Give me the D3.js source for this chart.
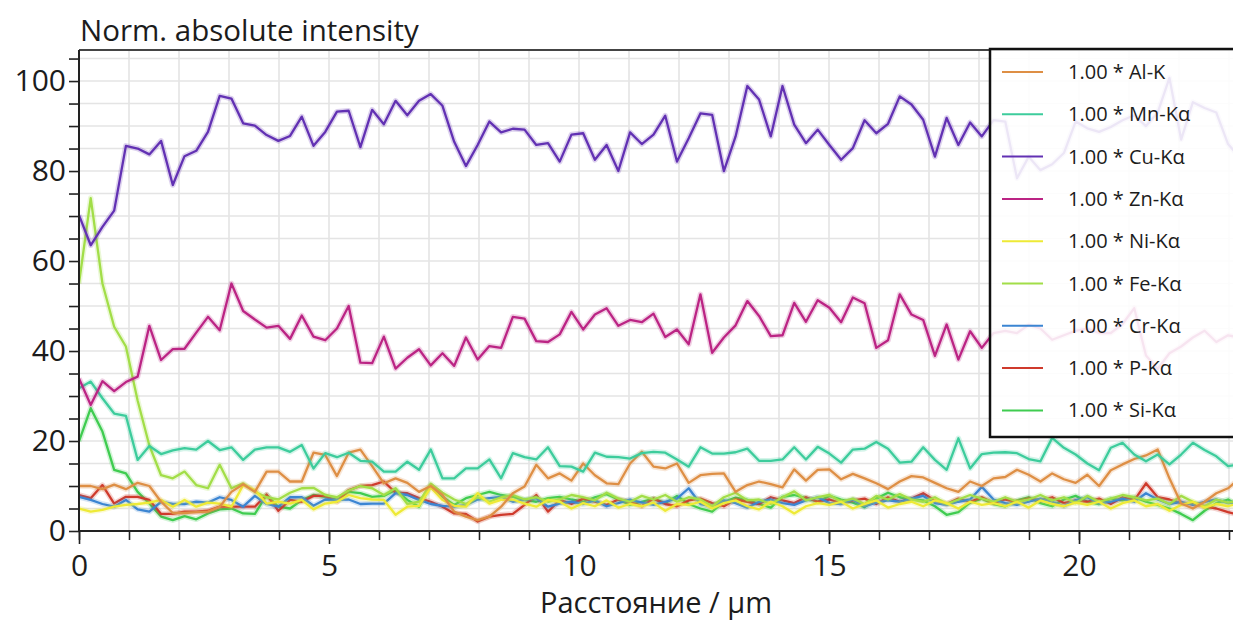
<!DOCTYPE html>
<html>
<head>
<meta charset="utf-8">
<script src="https://cdn.jsdelivr.net/npm/d3@7"></script>
<style>
  body { margin: 0; background: #ffffff; }
  svg { display: block; }
</style>
</head>
<body>
<svg id="chart" width="1233" height="628"></svg>
<script>
// Line-scan profile: sample spacing along the scan (µm)
const sampleStep = 0.2345;

// Normalised intensities per element, one value per scan point
const alK = [10, 10, 9.3, 10.3, 9.3, 10.7, 10, 6.5, 4, 4,
  4.2, 4.3, 5.4, 8.7, 10.4, 8.7, 13.2, 13.2, 11, 11,
  17.4, 16.9, 12.2, 17.4, 18.1, 14.4, 10.6, 11.7, 10.7, 8.7,
  10, 8, 4.3, 3.2, 2.4, 3.2, 5.4, 8.4, 9.9, 14.7,
  11.7, 12.8, 11.2, 15, 12.4, 10.6, 10.4, 15, 17.6, 14.3,
  13.9, 15, 10.7, 12.4, 12.7, 12.8, 8.7, 10.2, 11, 10.4,
  9.7, 13.7, 11.2, 13.6, 13.7, 11.5, 12.7, 11.7, 10.6, 9.3,
  11, 12.2, 11.9, 10.7, 9.5, 8.7, 11, 10, 11.7, 12,
  13.6, 12.5, 11, 12.8, 11.5, 10.7, 12.5, 10, 13.5, 14.8,
  16, 16.8, 18.1, 11.7, 6.1, 5, 6.5, 8.4, 9.5, 11.7];

const mnKa = [31.7, 33.2, 29.5, 26.1, 25.6, 15.8, 18.9, 17.1, 17.9, 18.4,
  18.1, 20, 18, 18.6, 15.8, 18.1, 18.6, 18.6, 17.6, 19.1,
  13.9, 17.3, 16.4, 17.4, 15.6, 15.4, 13.2, 13.2, 15.4, 13.6,
  18.1, 11.7, 11.7, 13.9, 13.9, 15.9, 11.7, 17.3, 16.4, 15.9,
  18.6, 14.4, 14.3, 13.2, 17.4, 16.5, 16.4, 16.1, 17.3, 17.6,
  17.4, 15.9, 14.3, 18.6, 17.2, 17.2, 17.5, 18.3, 15.6, 15.6,
  15.9, 18.6, 15.9, 18.7, 17.2, 15.2, 18.1, 18.3, 19.8, 18.3,
  15.2, 15.4, 18.6, 15.8, 13.6, 20.6, 13.9, 17.1, 17.4, 17.5,
  17.3, 16, 15.5, 20.7, 18.5, 17, 15, 13.5, 18.5, 19.6,
  17, 15.5, 17, 14.8, 17, 19.6, 18, 16.6, 14.4, 14.8];

const cuKa = [70.2, 63.5, 67.6, 71.2, 85.6, 85, 83.7, 86.7, 76.9, 83.3,
  84.5, 88.7, 96.7, 96.1, 90.6, 90.1, 88, 86.7, 87.8, 92.1,
  85.6, 88.7, 93.2, 93.4, 85.3, 93.6, 90.4, 95.6, 92.4, 95.6,
  97.1, 94.5, 86.5, 81.1, 85.8, 91, 88.6, 89.4, 89.2, 85.8,
  86.2, 82.1, 88.1, 88.4, 82.5, 85.8, 80, 88.6, 86, 88.1,
  92.3, 82.1, 87.3, 92.8, 92.5, 80, 87.7, 98.9, 95.9, 87.7,
  98.9, 90.3, 86.2, 89.2, 85.8, 82.5, 85.1, 91.3, 88.4, 90.5,
  96.6, 94.8, 91.4, 83.2, 91.8, 85.8, 90.8, 87.7, 91.3, 91,
  78.4, 83.2, 80.2, 81.5, 84, 91, 89.5, 88.7, 89.8, 91.3,
  92.4, 90, 93, 100.7, 87, 95.3, 94, 93, 86, 83];

const znKa = [33.9, 28, 33.3, 31.1, 33.1, 34.3, 45.6, 38, 40.4, 40.5,
  44.1, 47.6, 44.6, 55, 48.9, 47, 45.2, 45.6, 42.7, 47.9,
  43.2, 42.4, 45, 50, 37.4, 37.3, 43.2, 36.1, 38.5, 40.4,
  36.8, 39.5, 36.7, 43, 38.1, 41.1, 40.7, 47.6, 47.2, 42.2,
  42, 43.7, 48.7, 44.8, 48.1, 49.5, 45.6, 46.9, 46.4, 48.3,
  43.1, 44.8, 41.5, 52.6, 39.6, 43, 45.7, 51.1, 47.8, 43.3,
  43.5, 50.7, 46.5, 51.3, 49.6, 46.4, 51.9, 50.6, 40.7, 42.4,
  52.6, 48.1, 46.9, 38.9, 45.9, 38.1, 44.4, 40.7, 44, 44.5,
  44, 45.8, 45, 42.5, 43.5, 44.5, 45, 44, 44, 46,
  49.5, 39, 36, 39.5, 41, 43, 44.5, 42, 43.5, 43];

const niKa = [5, 4.3, 4.7, 5.4, 5.8, 6, 6.3, 6.9, 5.4, 6.9,
  5.4, 6.3, 6.1, 5.4, 10.2, 9.1, 6.1, 6.5, 6.1, 6.9,
  4.8, 6.1, 6.5, 8, 7.3, 7, 6.9, 3.6, 5.4, 5.6,
  9.7, 6.9, 5.6, 5.4, 8.4, 6.1, 6.9, 7, 6.1, 5.4,
  6.9, 6.5, 5, 6.2, 5.5, 6.8, 5.2, 6, 5.5, 6.3,
  4.5, 6, 5.8, 6.5, 5, 6.2, 6.8, 5.5, 4.8, 6.5,
  5.5, 3.9, 5.5, 6.2, 5.8, 6.5, 5, 6, 6.8, 5.2,
  6, 6.5, 5.5, 6.8, 6.2, 5, 6.5, 5.8, 6.2, 5.5,
  6.5, 5.2, 6.8, 6, 5.5, 6.3, 5.8, 6.5, 5, 6.2,
  6.8, 5.5, 6, 4.5, 5.8, 6.5, 5.2, 6, 5.5, 6.2];

const feKa = [55, 74, 55, 45.4, 41, 29, 19, 12.4, 11.7, 13.2,
  10.2, 9.5, 14.7, 9.5, 10.6, 8.7, 7.5, 7, 8.5, 9.5,
  9.6, 8, 7.5, 9, 10, 9.5, 8, 9.5, 6, 6.5,
  10.5, 8.5, 7, 6, 7.5, 6.5, 7.5, 8, 7, 7.5,
  6.5, 7, 8, 7.5, 6.8, 8.5, 7.2, 6.5, 7.8, 7,
  8, 6.5, 7.5, 7, 5.5, 7.5, 8.5, 6.8, 7, 6,
  7.5, 8.8, 6.8, 7.5, 8, 6.5, 7.2, 6, 7.8, 7,
  8.2, 7, 6.5, 7.5, 6, 7, 8, 7.2, 6.5, 7.5,
  6.5, 7, 8, 6.8, 7.5, 6.2, 7.8, 6.5, 7.2, 8,
  7.5, 6.8, 7.2, 6, 7.8, 6.5, 5.5, 7, 6.3, 6.8];

const crKa = [7.6, 6.9, 6, 5.4, 6.9, 4.8, 4.3, 6.5, 6, 6,
  6.5, 6.3, 7.5, 6.9, 5.4, 7.8, 6, 5.4, 7.5, 7.5,
  5.6, 7, 6.9, 7, 6, 6.1, 6.1, 8.4, 8, 6.9,
  6, 5.6, 5.4, 5.8, 7, 7.3, 7.6, 6.5, 6.9, 7.3,
  5.4, 6.1, 6.5, 6, 6.8, 5.5, 6.2, 7, 6.3, 5.8,
  6.5, 7.2, 9.5, 6, 5.5, 6.8, 6.2, 5.2, 6.5, 7,
  6.2, 5.8, 6.8, 7.5, 6.2, 6, 7, 5.5, 6.3, 6.8,
  6.5, 7.2, 7.8, 6.2, 5.8, 6.5, 7, 9.8, 7, 6.2,
  5.8, 6.5, 7.2, 6.5, 5.5, 6.8, 7.5, 6.2, 6.5, 7.2,
  6.5, 8.4, 7, 6, 6.5, 5.8, 6.5, 7, 6.2, 6.5];

const pKa = [8, 7.3, 10.2, 6.1, 7.6, 7.6, 6.9, 3.8, 3.8, 4.3,
  4.3, 4.5, 5.4, 5.4, 5.4, 5.4, 8.1, 4.5, 6.9, 6.5,
  7.8, 7.8, 6.5, 9.1, 10, 10.2, 11, 8.5, 8.4, 7.3,
  6.5, 5.4, 3.9, 3.8, 2.1, 3.2, 3.6, 3.8, 5.8, 8,
  4.3, 6.9, 6, 7.2, 6.5, 5.8, 7, 6.5, 5.5, 7.2,
  6, 5.5, 6.8, 7.2, 6.2, 5.5, 7, 6.5, 6, 7.5,
  6.8, 6.2, 7.5, 6.5, 7, 6.2, 6.8, 7.2, 6, 7.5,
  6.5, 7.2, 8.4, 6.8, 6, 7.2, 6.5, 7.5, 6.2, 7,
  6.5, 7.2, 6.8, 7.5, 6.2, 6.8, 6.5, 7.2, 6, 7.5,
  6.8, 10.6, 7.5, 7, 6.2, 6, 5.5, 5, 4.2, 3.5];

const siKa = [19.9, 27.3, 22.1, 13.6, 12.8, 8.7, 6.1, 3.2, 2.4, 3.3,
  2.6, 3.9, 4.8, 5, 3.9, 3.8, 8, 5.4, 5, 6.9,
  8, 7.6, 6.9, 8.7, 8.4, 7.6, 7.8, 9.1, 6.9, 5.4,
  10.2, 7.6, 5.8, 7.3, 8, 8.7, 8, 7.6, 6.9, 6.5,
  7.3, 7.6, 7, 6.5, 7.5, 8.2, 7, 5.8, 6.5, 7.2,
  6.2, 7.8, 6, 5, 4.3, 6.5, 7.4, 6.9, 6, 5.2,
  7.6, 8, 7.3, 6.5, 7.8, 7, 6.3, 5.3, 7.2, 8.5,
  7.5, 7, 6.8, 5.5, 3.6, 4.2, 6.3, 7.2, 6, 5.5,
  6.8, 7.5, 6.2, 5.5, 7, 7.8, 6.5, 6, 7.2, 6.8,
  7.5, 6.5, 5.8, 5, 3.8, 2.4, 4.5, 6.2, 7, 5.5];

// Legend labels and line colours, in legend order
const seriesLabels = ["1.00 * Al-K", "1.00 * Mn-Kα", "1.00 * Cu-Kα", "1.00 * Zn-Kα",
  "1.00 * Ni-Kα", "1.00 * Fe-Kα", "1.00 * Cr-Kα", "1.00 * P-Kα", "1.00 * Si-Kα"];
const seriesColors = ["#de8f45", "#3dcc9c", "#6231b3", "#bb2484",
  "#eeea36", "#a2de48", "#3b85d2", "#cf3a2c", "#3fcc50"];
const seriesValues = [alK, mnKa, cuKa, znKa, niKa, feKa, crKa, pKa, siKa];

const xMajorTicks = [0, 5, 10, 15, 20];
const yMajorTicks = [0, 20, 40, 60, 80, 100];

const titleText = "Norm. absolute intensity";
const xTitleText = "Расстояние / µm";

// ---- layout ----
const plot = { left: 79, right: 1233, top: 50, bottom: 531 };
const FONT = "'Open Sans', 'DejaVu Sans', sans-serif";
const TEXT = "#1c1c1c";

const svg = d3.select("#chart");

const x = d3.scaleLinear().domain([0, 23.08]).range([plot.left, plot.right]);
const y = d3.scaleLinear().domain([0, 106.9]).range([plot.bottom, plot.top]);

const distance = d3.range(cuKa.length).map(i => i * sampleStep);

svg.append("defs").append("clipPath").attr("id", "plotClip")
  .append("rect")
  .attr("x", plot.left).attr("y", plot.top)
  .attr("width", plot.right - plot.left).attr("height", plot.bottom - plot.top);

// grid
const grid = svg.append("g").attr("stroke", "#e4e4e4").attr("stroke-width", 1.6);
grid.selectAll("line.v").data(d3.range(1, 24)).join("line")
  .attr("x1", d => x(d)).attr("x2", d => x(d))
  .attr("y1", plot.top).attr("y2", plot.bottom);
grid.selectAll("line.h").data(d3.range(5, 106, 5)).join("line")
  .attr("x1", plot.left).attr("x2", plot.right)
  .attr("y1", d => y(d)).attr("y2", d => y(d));

// series lines, each with a soft halo
const line = d3.line().x((d, i) => x(distance[i])).y(d => y(d));
const linesG = svg.append("g").attr("clip-path", "url(#plotClip)");
const drawOrder = [8, 7, 6, 5, 4, 0, 1, 3, 2];
drawOrder.forEach(k => {
  linesG.append("path").datum(seriesValues[k])
    .attr("d", line).attr("fill", "none")
    .attr("stroke", seriesColors[k]).attr("stroke-opacity", 0.22)
    .attr("stroke-width", 5.5).attr("stroke-linejoin", "round");
  linesG.append("path").datum(seriesValues[k])
    .attr("d", line).attr("fill", "none")
    .attr("stroke", seriesColors[k]).attr("stroke-width", 2.3)
    .attr("stroke-linejoin", "round");
});

// top frame line
svg.append("line").attr("x1", plot.left).attr("x2", plot.right)
  .attr("y1", plot.top).attr("y2", plot.top)
  .attr("stroke", "#444").attr("stroke-width", 2);

// y axis
const yAxis = d3.axisLeft(y)
  .tickValues(d3.range(0, 106, 5))
  .tickSize(10).tickPadding(3)
  .tickFormat(d => yMajorTicks.includes(d) ? d : "");
const yG = svg.append("g").attr("transform", `translate(${plot.left},0)`).call(yAxis);
yG.select(".domain").remove();
yG.selectAll(".tick line").attr("stroke", "#222").attr("stroke-width", 1.6);
yG.selectAll(".tick text").attr("font-family", FONT).attr("font-size", 30).attr("fill", TEXT);
svg.append("line").attr("x1", plot.left).attr("x2", plot.left)
  .attr("y1", plot.top).attr("y2", plot.bottom)
  .attr("stroke", "#222").attr("stroke-width", 2);

// x axis: minor ticks each µm, labelled major ticks every 5 µm
const xMinor = d3.axisBottom(x).tickValues(d3.range(0, 24, 1)).tickSize(9).tickFormat("");
const xMinorG = svg.append("g").attr("transform", `translate(0,${plot.bottom})`).call(xMinor);
xMinorG.select(".domain").remove();
xMinorG.selectAll(".tick line").attr("stroke", "#222").attr("stroke-width", 1.6);
const xMajor = d3.axisBottom(x).tickValues(xMajorTicks).tickSize(13).tickPadding(11);
const xMajorG = svg.append("g").attr("transform", `translate(0,${plot.bottom})`).call(xMajor);
xMajorG.select(".domain").remove();
xMajorG.selectAll(".tick line").attr("stroke", "#222").attr("stroke-width", 1.6);
xMajorG.selectAll(".tick text").attr("font-family", FONT).attr("font-size", 30).attr("fill", TEXT);
svg.append("line").attr("x1", plot.left).attr("x2", plot.right)
  .attr("y1", plot.bottom).attr("y2", plot.bottom)
  .attr("stroke", "#222").attr("stroke-width", 2);

// titles
svg.append("text").attr("x", 80).attr("y", 41)
  .attr("font-family", FONT).attr("font-size", 29.5).attr("fill", TEXT)
  .text(titleText);
svg.append("text").attr("x", 656).attr("y", 613).attr("text-anchor", "middle")
  .attr("font-family", FONT).attr("font-size", 29).attr("fill", TEXT)
  .text(xTitleText);

// legend
const legend = svg.append("g");
legend.append("rect")
  .attr("x", 990).attr("y", 49).attr("width", 262).attr("height", 388)
  .attr("fill", "#ffffff").attr("fill-opacity", 0.88)
  .attr("stroke", "#111").attr("stroke-width", 2.5);
const rows = legend.selectAll("g.row").data(seriesLabels).join("g")
  .attr("transform", (d, i) => `translate(0,${72 + i * 42.3})`);
rows.append("line").attr("x1", 1002).attr("x2", 1043).attr("y1", 0).attr("y2", 0)
  .attr("stroke", (d, i) => seriesColors[i]).attr("stroke-width", 2);
rows.append("text").attr("x", 1068).attr("y", 0).attr("dy", "0.35em")
  .attr("font-family", FONT).attr("font-size", 20).attr("fill", TEXT)
  .text(d => d);
</script>
</body>
</html>
